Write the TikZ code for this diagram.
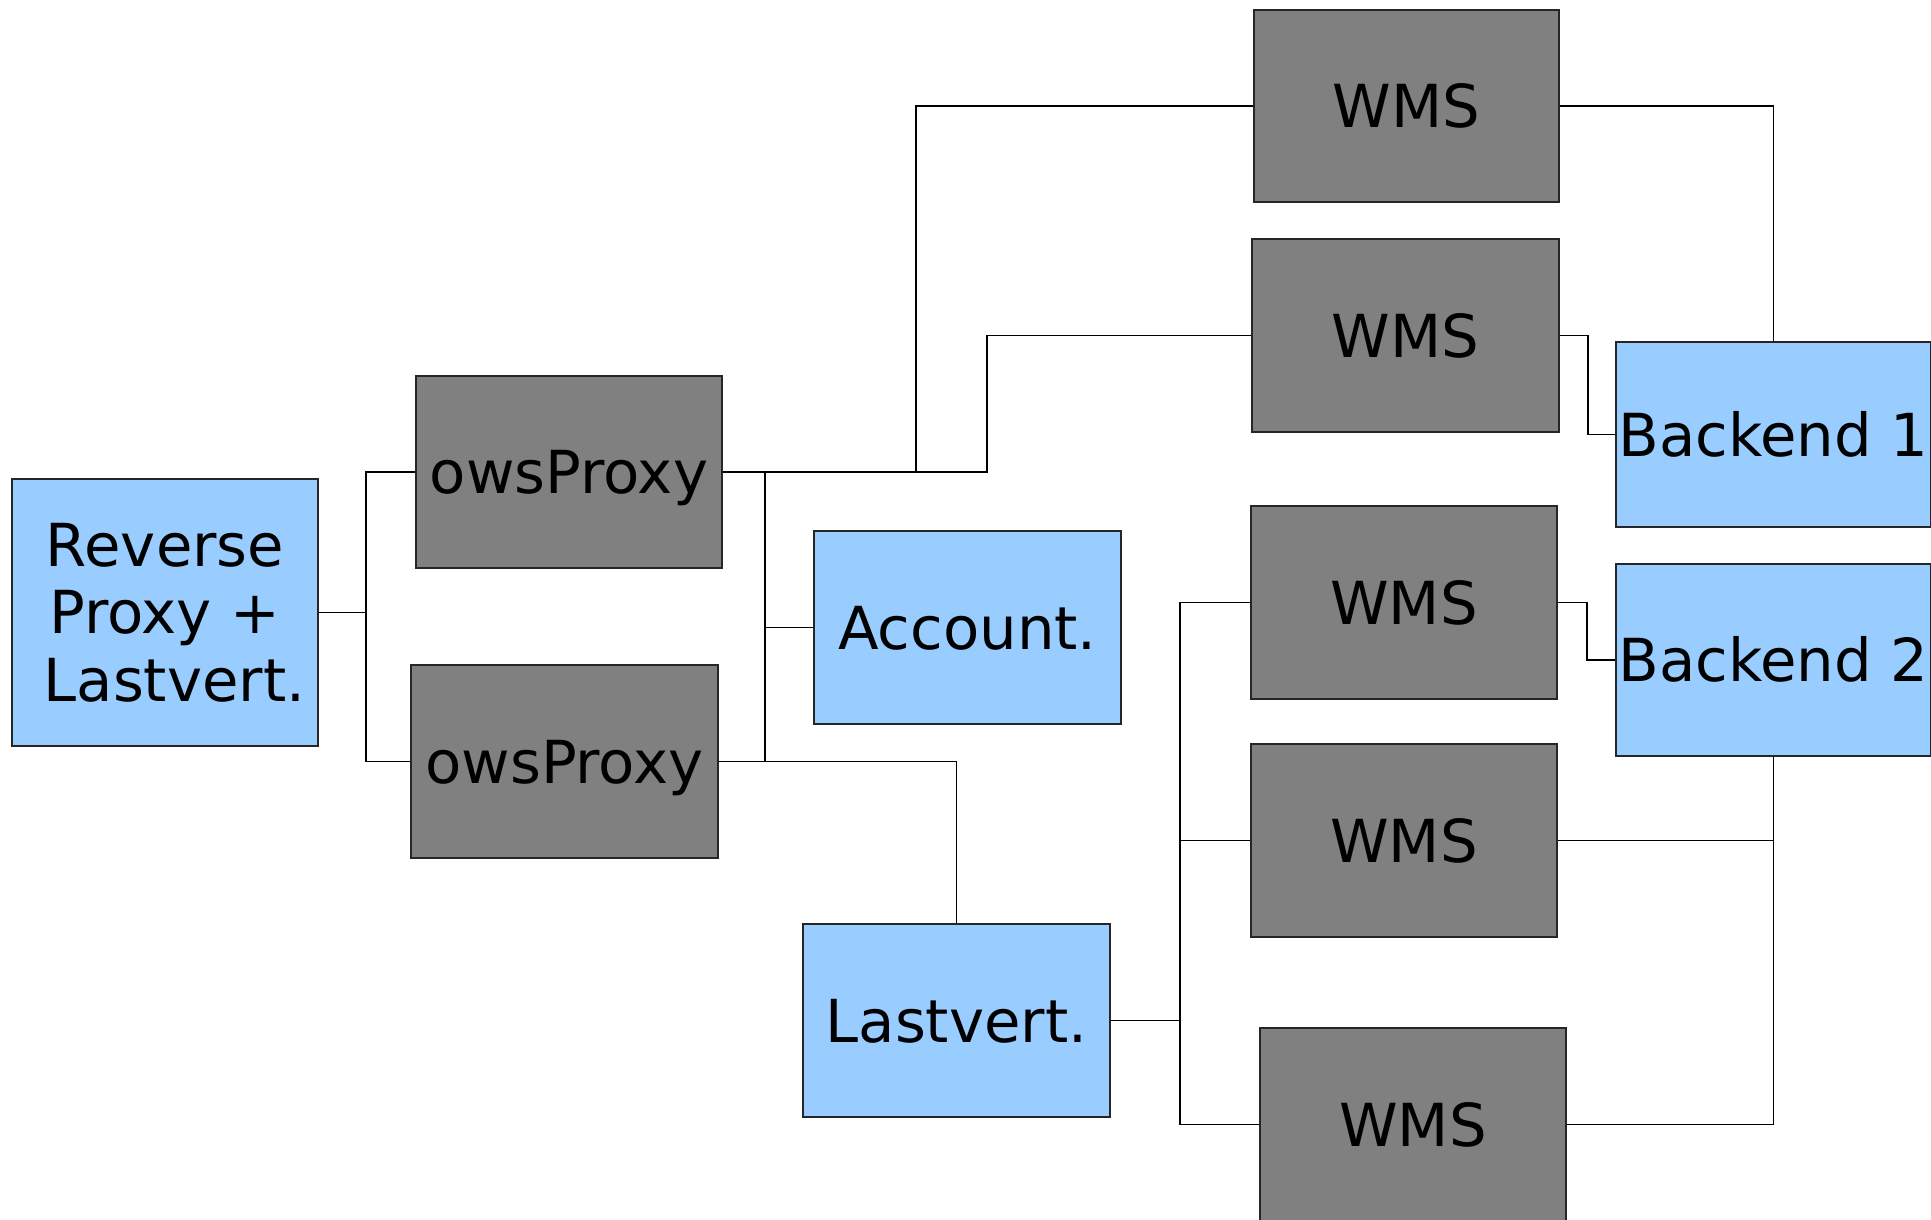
\documentclass[tikz,border=0pt]{standalone}
\usepackage{fontspec}
\setmainfont{DejaVu Sans}
\usetikzlibrary{calc}
\definecolor{boxblue}{HTML}{99CCFF}
\definecolor{boxgray}{HTML}{808080}
\begin{document}
\begin{tikzpicture}[x=1pt,y=-1pt,
  base/.style={rectangle, draw=black!85, line width=1.4pt, inner sep=0pt,
    font=\fontsize{59.3}{67.7}\selectfont},
  capcenter/.style={text height=43.2pt, text depth=0pt},
  graybox/.style={base, capcenter, fill=boxgray},
  bluebox/.style={base, capcenter, fill=boxblue},
  conn/.style={draw=black, line width=1.1pt}]
\useasboundingbox (0,0) rectangle (1931,1219);
\fill[white] (0,0) rectangle (1931,1219);
% nodes
\node[base, fill=boxblue, minimum width=306pt, minimum height=267pt, align=center]
  (rp) at (165,612.5) {Reverse\\Proxy +\\\hspace*{0.318em}Lastvert.};
\node[graybox, minimum width=306pt, minimum height=192pt] (ows1) at (569,472) {owsProxy};
\node[graybox, minimum width=307pt, minimum height=193pt] (ows2) at (564.5,761.5) {owsProxy};
\node[bluebox, minimum width=307pt, minimum height=193pt] (acc) at (967.5,627.5) {Account.};
\node[bluebox, minimum width=307pt, minimum height=193pt] (lv) at (956.5,1020.5) {Lastvert.};
\node[graybox, minimum width=305pt, minimum height=192pt] (w1) at (1406.5,106) {WMS};
\node[graybox, minimum width=307pt, minimum height=193pt] (w2) at (1405.5,335.5) {WMS};
\node[graybox, minimum width=306pt, minimum height=193pt] (w3) at (1404,602.5) {WMS};
\node[graybox, minimum width=306pt, minimum height=193pt] (w4) at (1404,840.5) {WMS};
\node[graybox, minimum width=306pt, minimum height=193pt] (w5) at (1413,1124.5) {WMS};
\node[bluebox, minimum width=315pt, minimum height=185pt] (b1) at (1773.5,434.5) {Backend 1};
\node[bluebox, minimum width=315pt, minimum height=192pt] (b2) at (1773.5,660) {Backend 2};
% junctions
\coordinate (j1) at (366,612.5);
\coordinate (j2) at (916,472);
\coordinate (j3) at (987,472);
\coordinate (jb) at (765,472);
\coordinate (jc) at (765,761.5);
\coordinate (j4) at (1180,1020.5);
\coordinate (j5) at (1588,335.5);
\coordinate (j6) at (1587,602.5);
\coordinate (j7) at (1773.5,840.5);
\coordinate (j8) at (1773.5,1124.5);
% connectors
\draw[conn] (rp.east) -- (j1) |- (ows1.west);
\draw[conn] (j1) |- (ows2.west);
\draw[conn] (ows1.east) -- (j3) |- (w2.west);
\draw[conn] (j2) |- (w1.west);
\draw[conn] (jb) -- (jc);
\draw[conn] (jb |- acc.west) -- (acc.west);
\draw[conn] (ows2.east) -| (lv.north);
\draw[conn] (lv.east) -- (j4);
\draw[conn] (w3.west) -| (j4) |- (w5.west);
\draw[conn] (j4) |- (w4.west);
\draw[conn] (w2.east) -- (j5) |- (b1.west);
\draw[conn] (w3.east) -- (j6) |- (b2.west);
\draw[conn] (w1.east) -| (b1.north);
\draw[conn] (b2.south) -- (j7) -- (j8);
\draw[conn] (w4.east) -- (j7);
\draw[conn] (w5.east) -- (j8);
\end{tikzpicture}
\end{document}
